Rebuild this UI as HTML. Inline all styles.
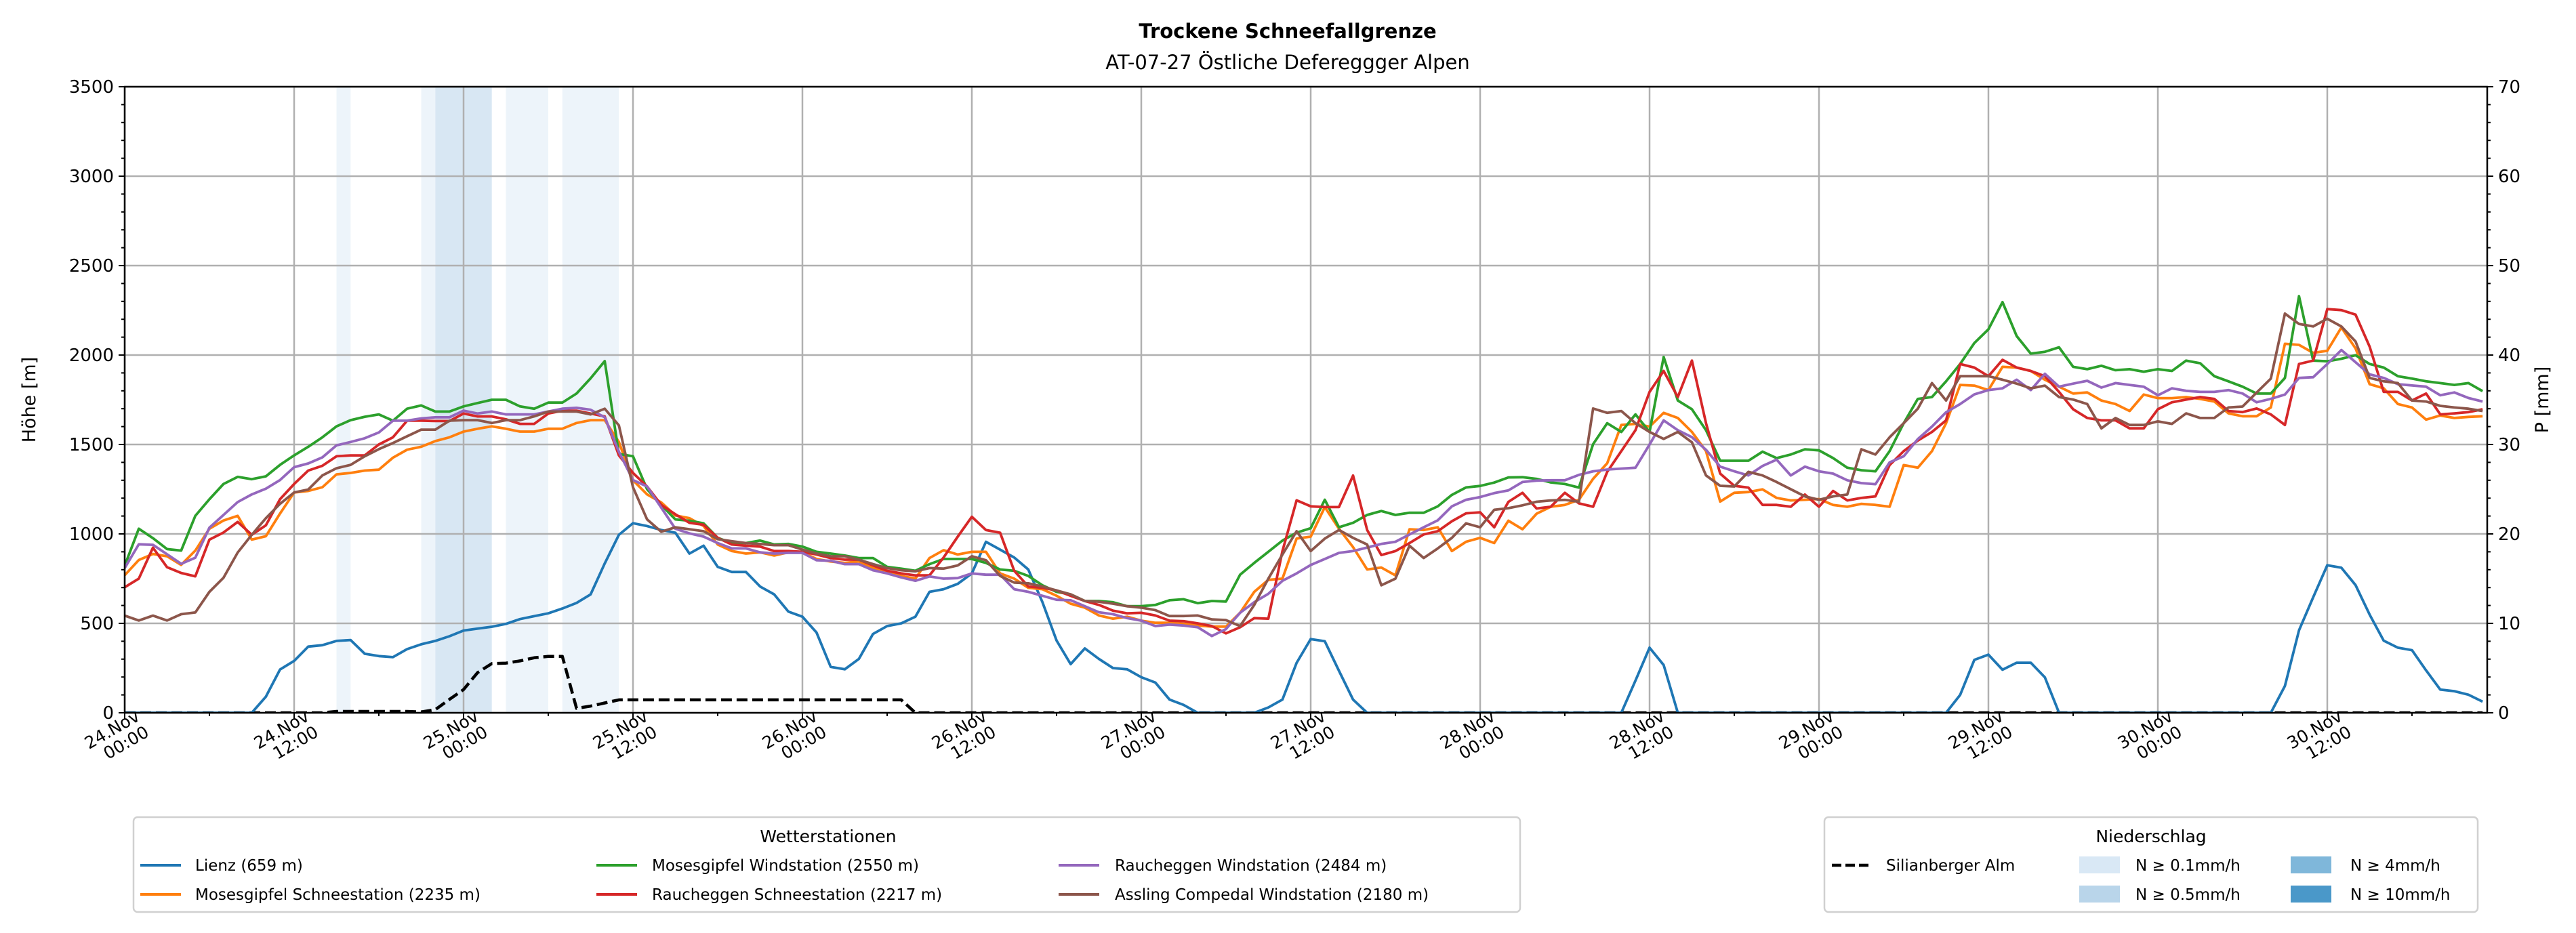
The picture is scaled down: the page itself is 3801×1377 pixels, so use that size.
<!DOCTYPE html>
<html><head><meta charset="utf-8">
<style>
html,body{margin:0;padding:0;background:#fff;}
svg{display:block;font-family:"DejaVu Sans","Liberation Sans",sans-serif;}
</style></head>
<body>
<svg id="chart" width="3801" height="1377" viewBox="0 0 3801 1377" xmlns="http://www.w3.org/2000/svg">
<defs><clipPath id="plotclip"><rect x="184" y="128" width="3486" height="924"/></clipPath></defs>
<rect x="0" y="0" width="3801" height="1377" fill="#fff"/>
<text x="1900" y="56" text-anchor="middle" font-size="29" font-weight="bold">Trockene Schneefallgrenze</text>
<text x="1900" y="102" text-anchor="middle" font-size="29">AT-07-27 Östliche Defereggger Alpen</text>
<g id="bands"></g>
<g id="grid"></g>
<g id="series" clip-path="url(#plotclip)"></g>
<g id="axes"></g>
<text transform="translate(52,590) rotate(-90)" text-anchor="middle" font-size="27">Höhe [m]</text>
<text transform="translate(3760,590) rotate(-90)" text-anchor="middle" font-size="27">P [mm]</text>

<g>
<rect x="197" y="1206" width="2046" height="140" rx="6" fill="#fff" stroke="#d0d0d0" stroke-width="2.5"/>
<text x="1222" y="1243" text-anchor="middle" font-size="25">Wetterstationen</text>
<g font-size="23">
<line x1="207" y1="1277" x2="267" y2="1277" stroke="#1f77b4" stroke-width="4"/>
<text x="288" y="1285">Lienz (659 m)</text>
<line x1="207" y1="1320" x2="267" y2="1320" stroke="#ff7f0e" stroke-width="4"/>
<text x="288" y="1328">Mosesgipfel Schneestation (2235 m)</text>
<line x1="880" y1="1277" x2="940" y2="1277" stroke="#2ca02c" stroke-width="4"/>
<text x="962" y="1285">Mosesgipfel Windstation (2550 m)</text>
<line x1="880" y1="1320" x2="940" y2="1320" stroke="#d62728" stroke-width="4"/>
<text x="962" y="1328">Raucheggen Schneestation (2217 m)</text>
<line x1="1562" y1="1277" x2="1622" y2="1277" stroke="#9467bd" stroke-width="4"/>
<text x="1645" y="1285">Raucheggen Windstation (2484 m)</text>
<line x1="1562" y1="1320" x2="1622" y2="1320" stroke="#8c564b" stroke-width="4"/>
<text x="1645" y="1328">Assling Compedal Windstation (2180 m)</text>
</g></g>

<g>
<rect x="2692" y="1206" width="964" height="140" rx="6" fill="#fff" stroke="#d0d0d0" stroke-width="2.5"/>
<text x="3174" y="1243" text-anchor="middle" font-size="25">Niederschlag</text>
<g font-size="23">
<line x1="2703" y1="1277" x2="2763" y2="1277" stroke="#000" stroke-width="4.5" stroke-dasharray="14,6"/>
<text x="2783" y="1285">Silianberger Alm</text>
<rect x="3068" y="1264" width="60" height="25" fill="#d9e8f5"/>
<text x="3151" y="1285">N ≥ 0.1mm/h</text>
<rect x="3068" y="1307" width="60" height="25" fill="#b9d5ea"/>
<text x="3151" y="1328">N ≥ 0.5mm/h</text>
<rect x="3380" y="1264" width="60" height="25" fill="#7fb7da"/>
<text x="3468" y="1285">N ≥ 4mm/h</text>
<rect x="3380" y="1307" width="60" height="25" fill="#4a98c9"/>
<text x="3468" y="1328">N ≥ 10mm/h</text>
</g></g>
</svg>
<script>
const tickLabelsDay = ["24.Nov","24.Nov","25.Nov","25.Nov","26.Nov","26.Nov","27.Nov","27.Nov","28.Nov","28.Nov","29.Nov","29.Nov","30.Nov","30.Nov"];
const tickLabelsTime = ["00:00","12:00","00:00","12:00","00:00","12:00","00:00","12:00","00:00","12:00","00:00","12:00","00:00","12:00"];
const yTicksLeft = [0,500,1000,1500,2000,2500,3000,3500];
const yTicksRight = [0,10,20,30,40,50,60,70];
const bandStart = [15,21,22,27,31];
const bandEnd = [16,22,26,30,35];
const bandLevel = [0,0,1,0,0];
const lienz = [0,0,0,0,0,0,0,0,0,0,90,242,290,370,378,402,407,330,317,311,356,383,402,428,460,471,481,497,524,540,556,583,614,662,835,995,1060,1044,1022,1007,890,934,816,787,787,706,662,566,537,449,257,243,301,441,485,500,537,676,691,721,779,956,912,868,801,618,404,272,360,301,250,243,199,169,74,44,0,0,0,0,0,30,74,279,412,400,235,74,0,0,0,0,0,0,0,0,0,0,0,0,0,0,0,0,0,0,0,180,364,267,0,0,0,0,0,0,0,0,0,0,0,0,0,0,0,0,0,0,0,0,100,296,325,241,280,280,198,0,0,0,0,0,0,0,0,0,0,0,0,0,0,0,0,150,461,646,825,811,714,549,403,364,350,237,130,121,101,62];
const mosesSchnee = [769,854,888,875,827,907,1029,1075,1101,968,987,1114,1232,1240,1261,1333,1341,1354,1359,1426,1471,1487,1519,1540,1572,1588,1601,1588,1572,1572,1588,1588,1620,1636,1636,1514,1300,
1221,1176,1103,1088,1044,941,904,890,897,879,897,897,860,846,838,846,809,787,765,750,865,909,885,900,900,779,750,699,691,654,
610,588,544,526,537,515,503,503,497,488,482,482,559,676,743,750,974,985,1150,1029,926,801,812,768,1026,1022,1037,904,956,978,949,1074,
1026,1113,1152,1162,1191,1308,1395,1609,1615,1600,1677,1648,1570,1463,1181,1230,1234,1249,1201,1187,1191,1195,1162,1152,1168,1162,1152,1385,1370,1463,1619,1833,1829,1804,1934,1930,1911,1862,1823,1785,1791,1746,1726,1687,1779,1759,1759,1765,1755,1740,1674,1658,1658,1707,2063,2057,2012,2024,2154,2037,1837,1814,1726,1707,1639,1662,1648,1654,1658];
const mosesWind = [822,1029,976,915,907,1101,1194,1279,1319,1306,1322,1386,1439,1487,1540,1601,1636,1655,1668,1633,1700,1718,1684,1684,1713,1732,1750,1750,1713,1700,1734,1734,1785,1870,1966,1447,1434,
1250,1162,1081,1074,1059,978,949,949,963,941,944,929,900,890,879,865,865,816,806,794,831,860,860,860,838,801,794,765,713,676,
662,625,625,618,596,596,603,629,635,613,625,622,772,838,900,963,1007,1032,1191,1037,1062,1106,1128,1106,1118,1118,1154,1218,1260,1268,1287,1316,
1317,1308,1288,1279,1259,1502,1619,1570,1668,1570,1989,1746,1697,1580,1409,1409,1409,1460,1424,1444,1473,1467,1424,1370,1356,1350,1463,1619,1755,1765,1853,1950,2067,2144,2296,2106,2008,2018,2043,1934,1921,1940,1915,1921,1907,1921,1911,1969,1954,1882,1853,1823,1785,1785,1872,2329,1969,1965,1979,1999,1950,1930,1882,1868,1853,1843,1833,1843,1798];
const rauchSchnee = [702,750,923,814,782,763,968,1008,1067,995,1048,1194,1279,1354,1381,1434,1439,1439,1500,1540,1633,1633,1631,1631,1673,1657,1657,1641,1615,1615,1673,1689,1689,1673,1657,1439,1341,
1265,1162,1110,1062,1051,978,941,934,929,904,904,900,885,865,856,856,824,794,779,768,768,868,985,1096,1022,1007,794,706,699,684,
654,625,603,571,556,559,544,515,512,500,485,444,478,529,526,904,1188,1154,1150,1150,1326,1022,882,904,949,997,1015,1071,1115,1121,1037,1179,
1230,1142,1152,1230,1171,1152,1347,1463,1580,1794,1911,1765,1969,1619,1337,1269,1259,1162,1162,1152,1220,1152,1240,1187,1201,1210,1385,1463,1522,1570,1635,1950,1930,1882,1973,1930,1911,1882,1794,1697,1648,1635,1635,1590,1590,1697,1736,1751,1765,1755,1687,1681,1701,1668,1609,1950,1969,2257,2251,2226,2047,1794,1794,1746,1785,1668,1674,1681,1697];
const rauchWind = [809,942,939,886,833,867,1035,1106,1178,1221,1253,1301,1373,1394,1428,1495,1514,1535,1567,1633,1633,1646,1652,1652,1689,1673,1684,1668,1668,1668,1684,1700,1705,1694,1652,1460,1301,
1265,1147,1029,1003,985,949,919,919,897,890,894,894,853,850,831,831,797,779,757,738,762,750,753,779,772,772,691,676,654,632,
629,596,562,551,529,515,485,493,488,478,429,468,559,618,665,738,779,826,860,894,904,924,944,956,997,1037,1076,1154,1191,1206,1228,1243,
1290,1298,1300,1300,1330,1350,1360,1365,1370,1500,1635,1580,1541,1470,1376,1350,1327,1380,1415,1327,1376,1350,1337,1300,1284,1278,1400,1434,1530,1600,1680,1726,1780,1804,1814,1862,1804,1895,1823,1840,1856,1818,1843,1833,1823,1775,1814,1800,1794,1794,1804,1785,1736,1755,1779,1872,1876,1950,2028,1960,1892,1872,1837,1830,1823,1775,1791,1760,1740];
const assling = [543,516,543,516,551,561,676,755,896,995,1088,1168,1232,1248,1327,1367,1386,1434,1474,1508,1546,1583,1583,1633,1636,1636,1620,1636,1636,1657,1684,1684,1684,1668,1700,1607,1261,
1081,1012,1037,1026,1015,971,959,949,944,937,937,912,890,875,875,856,831,809,797,791,809,806,824,875,853,765,728,724,706,684,
662,625,621,610,596,588,574,541,541,544,522,518,485,603,750,885,1015,904,974,1022,978,941,713,750,934,865,919,978,1059,1037,1135,1144,
1160,1180,1187,1190,1180,1701,1677,1687,1619,1570,1531,1570,1512,1327,1269,1265,1347,1327,1290,1250,1210,1191,1210,1220,1473,1444,1540,1619,1700,1843,1746,1882,1882,1882,1862,1840,1814,1829,1765,1751,1726,1590,1648,1609,1609,1629,1615,1674,1648,1648,1707,1712,1790,1868,2232,2174,2160,2203,2160,2076,1872,1853,1843,1746,1740,1716,1707,1700,1687];
const silianMm = [0,0,0,0,0,0,0,0,0,0,0,0,0,0,0,0.15,0.15,0.15,0.15,0.15,0.15,0.1,0.35,1.5,2.6,4.5,5.5,5.55,5.8,6.15,6.3,6.3,0.5,0.75,1.1,1.45,1.45,1.45,1.45,1.45,1.45,1.45,1.45,1.45,1.45,1.45,1.45,1.45,1.45,1.45,1.45,1.45,1.45,1.45,1.45,1.45,0,0,0,0,0,0,0,0,0,0,0,0,0,0,0,0,0,0,0,0,0,0,0,0,0,0,0,0,0,0,0,0,0,0,0,0,0,0,0,0,0,0,0,0,0,0,0,0,0,0,0,0,0,0,0,0,0,0,0,0,0,0,0,0,0,0,0,0,0,0,0,0,0,0,0,0,0,0,0,0,0,0,0,0,0,0,0,0,0,0,0,0,0,0,0,0,0,0,0,0,0,0,0,0,0,0,0,0,0,0,0,0,0,0,0,0,0,0];

const NS = "http://www.w3.org/2000/svg";
const X0 = 184, X1 = 3670, Y0 = 1052, Y1 = 128;
const HOURS_END = (X1 - X0) / (250 / 12);
function xScale(h){ return X0 + h * (X1 - X0) / HOURS_END; }
function yLeft(v){ return Y0 - v * (Y0 - Y1) / 3500; }
function yRight(v){ return Y0 - v * (Y0 - Y1) / 70; }
function mk(tag, attrs, parent){ const e = document.createElementNS(NS, tag); for (const k in attrs) e.setAttribute(k, attrs[k]); parent.appendChild(e); return e; }

const bands = document.getElementById('bands');
const bandColors = ["#edf4fa", "#d8e7f3"];
for (let i = 0; i < bandStart.length; i++) {
  const r = mk('rect', {x: xScale(bandStart[i]), y: Y1, width: xScale(bandEnd[i]) - xScale(bandStart[i]), height: Y0 - Y1, fill: bandColors[bandLevel[i]]}, bands);
  
  
}

const grid = document.getElementById('grid');
for (let i = 0; i < tickLabelsDay.length; i++) {
  const x = xScale(i * 12);
  const l = mk('line', {x1: x, x2: x, y1: Y1, y2: Y0, stroke: '#b0b0b0', 'stroke-width': 2.5}, grid);
  
  
}
for (const v of yTicksLeft) {
  const y = yLeft(v);
  const l = mk('line', {x1: X0, x2: X1, y1: y, y2: y, stroke: '#b0b0b0', 'stroke-width': 2.5}, grid);
  
  
}

const series = document.getElementById('series');
function drawLine(arr, yf, color, name, dash){
  let d = '';
  arr.forEach((v, i) => { if (i > HOURS_END) return; d += (i ? 'L' : 'M') + xScale(i).toFixed(1) + ',' + yf(v).toFixed(1); });
  const p = mk('path', {d: d, fill: 'none', stroke: color, 'stroke-width': dash ? 4.5 : 3.8, 'stroke-linejoin': 'round'}, series);
  if (dash) p.setAttribute('stroke-dasharray', '16,7');
  
  
}
drawLine(silianMm, yRight, '#000', 'line-silianberger-alm', true);
drawLine(lienz, yLeft, '#1f77b4', 'line-lienz');
drawLine(mosesSchnee, yLeft, '#ff7f0e', 'line-mosesgipfel-schneestation');
drawLine(mosesWind, yLeft, '#2ca02c', 'line-mosesgipfel-windstation');
drawLine(rauchSchnee, yLeft, '#d62728', 'line-raucheggen-schneestation');
drawLine(rauchWind, yLeft, '#9467bd', 'line-raucheggen-windstation');
drawLine(assling, yLeft, '#8c564b', 'line-assling-compedal');

const axes = document.getElementById('axes');
const frame = mk('rect', {x: X0, y: Y1, width: X1 - X0, height: Y0 - Y1, fill: 'none', stroke: '#000', 'stroke-width': 2.5}, axes);


for (let v = 0; v <= 3500; v += 100) {
  const y = yLeft(v), major = v % 500 === 0;
  const t = mk('line', {x1: X0 - (major ? 9 : 5), x2: X0, y1: y, y2: y, stroke: '#000', 'stroke-width': 2}, axes);
  
  
}
for (const v of yTicksLeft) {
  const t = mk('text', {x: X0 - 16, y: yLeft(v) + 9, 'text-anchor': 'end', 'font-size': 26}, axes);
  t.textContent = String(v);
  
  
}
for (let v = 0; v <= 70; v += 2) {
  const y = yRight(v), major = v % 10 === 0;
  const t = mk('line', {x1: X1, x2: X1 + (major ? 9 : 5), y1: y, y2: y, stroke: '#000', 'stroke-width': 2}, axes);
  
  
}
for (const v of yTicksRight) {
  const t = mk('text', {x: X1 + 16, y: yRight(v) + 9, 'text-anchor': 'start', 'font-size': 26}, axes);
  t.textContent = String(v);
  
  
}
for (let h = 0; h <= HOURS_END; h += 6) {
  const x = xScale(h), major = h % 12 === 0;
  const t = mk('line', {x1: x, x2: x, y1: Y0, y2: Y0 + (major ? 9 : 5), stroke: '#000', 'stroke-width': 2}, axes);
  
  
}
for (let i = 0; i < tickLabelsDay.length; i++) {
  const x = xScale(i * 12);
  const g = mk('g', {transform: 'translate(' + (x + 24) + ',1062) rotate(-30)', 'font-size': 25}, axes);
  
  
  const a = mk('text', {x: 0, y: 0, 'text-anchor': 'end'}, g);
  a.textContent = tickLabelsDay[i];
  
  
  const b = mk('text', {x: 0, y: 27, 'text-anchor': 'end'}, g);
  b.textContent = tickLabelsTime[i];
  
  
}
</script>
</body></html>
